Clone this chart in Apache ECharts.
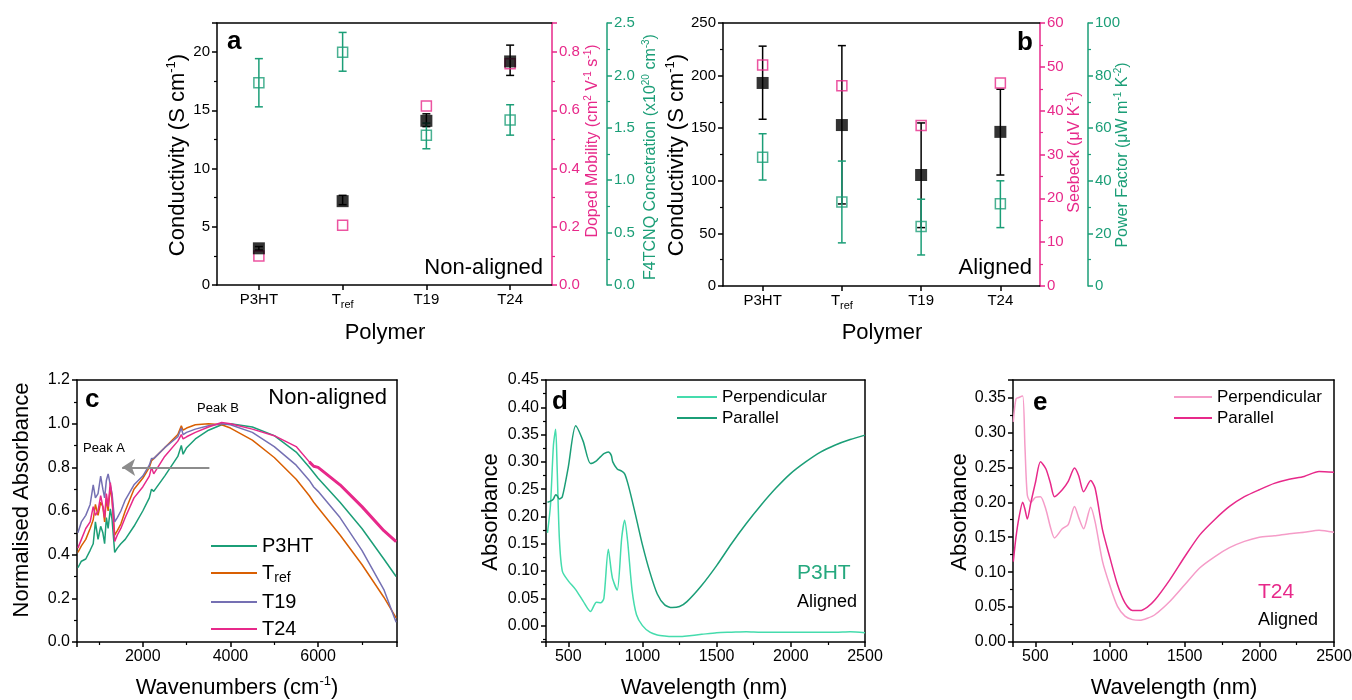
<!DOCTYPE html>
<html>
<head>
<meta charset="utf-8">
<title>Doped polymers: conductivity and absorbance</title>
<script src="https://cdn.jsdelivr.net/npm/echarts@6/dist/echarts.min.js"></script>
<style>
    html, body { margin: 0; background: #fff; }
    #container { width: 1352px; height: 700px; }
</style>
</head>
<body>
<div id="container"></div>
<script>
// ---------- data: panels a / b ----------
var polymers = ['P3HT', 'Tref', 'T19', 'T24'];

var condNonAligned = [3.15, 7.2, 14.1, 19.2];
var condNonAlignedLo = [3.0, 6.9, 13.6, 18.0];
var condNonAlignedHi = [3.3, 7.7, 14.7, 20.6];
var mobilityNonAligned = [0.10, 0.205, 0.615, 0.76];
var dopantNonAligned = [1.93, 2.22, 1.43, 1.575];
var dopantNonAlignedLo = [1.70, 2.04, 1.30, 1.43];
var dopantNonAlignedHi = [2.16, 2.41, 1.545, 1.72];

var condAligned = [193, 153, 105.5, 146.5];
var condAlignedLo = [158.5, 78, 55.5, 105.5];
var condAlignedHi = [228, 228.5, 155, 187];
var seebeckAligned = [50.4, 45.7, 36.6, 46.3];
var pfAligned = [49, 31.9, 22.6, 31.3];
var pfAlignedLo = [40.3, 16.4, 11.8, 22.2];
var pfAlignedHi = [57.9, 47.5, 33.0, 40.0];

// ---------- data: panel c (normalised absorbance vs wavenumber) ----------
var wavenumbers = [520, 600, 700, 800, 870, 920, 980, 1040, 1090, 1130, 1170, 1210, 1260, 1300, 1360, 1420,
    1500, 1600, 1800, 2000, 2150, 2200, 2250, 2500, 2800, 2880, 2920, 3000, 3200, 3500, 3800, 4000,
    4500, 5000, 5500, 5800, 5900, 6000, 6500, 7000, 7500, 7780];
var absP3HT = [0.34, 0.37, 0.38, 0.42, 0.45, 0.55, 0.47, 0.53, 0.50, 0.45, 0.57, 0.52, 0.61, 0.56, 0.41, 0.43,
    0.45, 0.47, 0.53, 0.60, 0.66, 0.70, 0.69, 0.76, 0.85, 0.90, 0.86, 0.89, 0.93, 0.97, 0.995, 1.0,
    0.985, 0.945, 0.87, 0.80, 0.775, 0.75, 0.64, 0.52, 0.38, 0.30];
var absTref = [0.41, 0.44, 0.47, 0.52, 0.56, 0.63, 0.58, 0.64, 0.62, 0.55, 0.66, 0.60, 0.71, 0.65, 0.49, 0.51,
    0.54, 0.60, 0.70, 0.75, 0.80, 0.83, 0.84, 0.89, 0.95, 0.99, 0.97, 0.98, 0.995, 1.0, 0.995, 0.98,
    0.925, 0.845, 0.745, 0.67, 0.64, 0.615, 0.49, 0.355, 0.205, 0.11];
var absT19 = [0.50, 0.55, 0.58, 0.63, 0.72, 0.66, 0.68, 0.76, 0.70, 0.66, 0.74, 0.77, 0.72, 0.68, 0.55, 0.57,
    0.60, 0.65, 0.72, 0.76, 0.81, 0.84, 0.84, 0.89, 0.94, 0.98, 0.95, 0.96, 0.975, 0.99, 1.0, 0.995,
    0.96, 0.895, 0.81, 0.74, 0.71, 0.69, 0.57, 0.42, 0.24, 0.09];
var absT24 = [0.43, 0.47, 0.52, 0.55, 0.62, 0.58, 0.60, 0.67, 0.62, 0.57, 0.68, 0.62, 0.73, 0.66, 0.46, 0.49,
    0.52, 0.57, 0.66, 0.71, 0.76, 0.80, 0.77, 0.85, 0.92, 0.95, 0.93, 0.94, 0.96, 0.985, 1.005, 1.0,
    0.975, 0.945, 0.895, 0.825, 0.805, 0.80, 0.72, 0.62, 0.51, 0.46];

// ---------- data: panel d (P3HT aligned) ----------
var wavelengthD = [360, 380, 400, 415, 425, 440, 460, 500, 550, 600, 650, 690, 720, 740, 770, 790, 800, 830,
    860, 880, 900, 930, 960, 1000, 1050, 1100, 1150, 1200, 1250, 1300, 1400, 1500, 1600, 1700, 1800,
    1900, 2000, 2100, 2200, 2300, 2400, 2500];
var perpD = [0.17, 0.22, 0.33, 0.36, 0.29, 0.16, 0.10, 0.082, 0.066, 0.045, 0.026, 0.043, 0.042, 0.05, 0.14,
    0.10, 0.085, 0.065, 0.16, 0.193, 0.155, 0.065, 0.02, 0.0, -0.012, -0.017, -0.019, -0.02, -0.02, -0.019,
    -0.016, -0.013, -0.012, -0.011, -0.012, -0.012, -0.012, -0.012, -0.012, -0.012, -0.011, -0.013];
var parD = [0.226, 0.228, 0.232, 0.240, 0.238, 0.232, 0.236, 0.290, 0.366, 0.338, 0.297, 0.302, 0.310, 0.315,
    0.318, 0.312, 0.300, 0.287, 0.283, 0.278, 0.262, 0.230, 0.195, 0.148, 0.098, 0.058, 0.038, 0.033,
    0.035, 0.044, 0.074, 0.110, 0.150, 0.187, 0.221, 0.252, 0.279, 0.300, 0.318, 0.331, 0.341, 0.349];

// ---------- data: panel e (T24 aligned) ----------
var wavelengthE = [352, 370, 390, 415, 430, 446, 470, 500, 534, 570, 600, 628, 680, 720, 762, 790, 823, 870,
    900, 950, 1000, 1050, 1100, 1150, 1200, 1250, 1300, 1400, 1500, 1600, 1700, 1800, 1900, 2000, 2100,
    2200, 2300, 2400, 2500];
var perpE = [0.315, 0.348, 0.350, 0.352, 0.280, 0.210, 0.200, 0.207, 0.208, 0.190, 0.165, 0.149, 0.162, 0.168,
    0.194, 0.178, 0.162, 0.193, 0.172, 0.115, 0.080, 0.051, 0.037, 0.032, 0.031, 0.034, 0.039, 0.058,
    0.082, 0.106, 0.122, 0.135, 0.144, 0.150, 0.152, 0.155, 0.157, 0.160, 0.157];
var parE = [0.115, 0.150, 0.178, 0.200, 0.190, 0.176, 0.200, 0.228, 0.258, 0.248, 0.228, 0.208, 0.218, 0.230,
    0.249, 0.238, 0.215, 0.231, 0.220, 0.160, 0.120, 0.082, 0.056, 0.045, 0.045, 0.050, 0.060, 0.089,
    0.122, 0.153, 0.175, 0.194, 0.208, 0.218, 0.227, 0.233, 0.237, 0.244, 0.243];

// ---------- styles ----------
var FONT = 'Liberation Sans';
var GREEN = '#1b9e77', PINK = '#e7298a', ORANGE = '#d95f02', PURPLE = '#7570b3';
var LIGHT_GREEN = '#45dcad', LIGHT_PINK = '#f59cc8', MID_GREEN = '#25a87e';

function pairs(xs, ys, from, to) {
    var out = [];
    for (var i = from || 0; i < (to || xs.length); i++) out.push([xs[i], ys[i]]);
    return out;
}

function tickFormatter(step, digits) {
    return function (v) {
        var r = v / step;
        return Math.abs(r - Math.round(r)) < 1e-6 ? v.toFixed(digits) : '';
    };
}

function valueAxis(grid, o) {
    var color = o.color || '#000';
    var show = o.labels !== false;
    var ax = {
        type: 'value', gridIndex: grid, position: o.position, offset: o.offset || 0,
        min: o.min, max: o.max,
        axisLine: { show: true, onZero: false, lineStyle: { color: color, width: 1.5 } },
        axisTick: { show: show, length: 5, lineStyle: { color: color, width: 1.5 } },
        minorTick: { show: show, splitNumber: 2, length: 3, lineStyle: { color: color, width: 1.2 } },
        splitLine: { show: false },
        axisLabel: { show: show, color: color, fontSize: o.fontSize || 15, fontFamily: FONT, margin: 7 }
    };
    if (o.interval != null) ax.interval = o.interval;
    if (o.splitNumber != null) ax.splitNumber = o.splitNumber;
    if (o.step) ax.axisLabel.formatter = tickFormatter(o.step, o.digits);
    return ax;
}

var catRich = {
    n: { fontSize: 15, lineHeight: 20, fontFamily: FONT, color: '#000' },
    s: { fontSize: 11, lineHeight: 8, verticalAlign: 'bottom', fontFamily: FONT, color: '#000' }
};
function polymerLabel(v) {
    return v === 'Tref' ? '{n|T}{s|ref}' : '{n|' + v + '}';
}

function categoryAxis(grid) {
    return {
        type: 'category', gridIndex: grid, data: polymers, position: 'bottom',
        axisLine: { show: true, onZero: false, lineStyle: { color: '#000', width: 1.5 } },
        axisTick: { show: true, alignWithLabel: true, length: 5, lineStyle: { color: '#000', width: 1.5 } },
        axisLabel: { margin: 5, formatter: polymerLabel, rich: catRich }
    };
}

function errorBars(xi, yi, lo, hi, color) {
    return {
        type: 'custom', xAxisIndex: xi, yAxisIndex: yi, z: 2, silent: true,
        data: polymers.map(function (p, i) { return [i, lo[i], hi[i]]; }),
        encode: { x: 0, y: [1, 2] },
        renderItem: function (params, api) {
            var top = api.coord([api.value(0), api.value(2)]);
            var bot = api.coord([api.value(0), api.value(1)]);
            var w = 4;
            var st = { stroke: color, lineWidth: 1.5 };
            return {
                type: 'group', children: [
                    { type: 'line', shape: { x1: top[0], y1: top[1], x2: bot[0], y2: bot[1] }, style: st },
                    { type: 'line', shape: { x1: top[0] - w, y1: top[1], x2: top[0] + w, y2: top[1] }, style: st },
                    { type: 'line', shape: { x1: bot[0] - w, y1: bot[1], x2: bot[0] + w, y2: bot[1] }, style: st }
                ]
            };
        }
    };
}

function openSquares(name, xi, yi, values, color) {
    return {
        name: name, type: 'scatter', xAxisIndex: xi, yAxisIndex: yi, z: 3, data: values,
        symbol: 'rect', symbolSize: 10,
        itemStyle: { color: 'rgba(255,255,255,0)', borderColor: color, borderWidth: 1.5 }
    };
}

function filledSquares(name, xi, yi, values) {
    return {
        name: name, type: 'scatter', xAxisIndex: xi, yAxisIndex: yi, z: 4, data: values,
        symbol: 'rect', symbolSize: 12, itemStyle: { color: '#000' }
    };
}

function curve(name, xi, yi, data, color, width, smooth) {
    return {
        name: name, type: 'line', xAxisIndex: xi, yAxisIndex: yi, data: data, symbol: 'none',
        smooth: smooth || false, lineStyle: { color: color, width: width || 1.5 }, itemStyle: { color: color }
    };
}

function txt(x, y, text, o) {
    o = o || {};
    var size = o.size || 22;
    var color = o.color || '#000';
    return {
        type: 'text', x: x, y: y, rotation: o.rotate ? Math.PI / 2 : 0, z: 100, silent: true,
        style: {
            text: text, fill: color, fontSize: size, fontFamily: FONT,
            fontWeight: o.bold ? 'bold' : 'normal', lineHeight: size + 4,
            align: o.align || 'center', verticalAlign: 'middle',
            rich: {
                sup: { fontSize: Math.round(size * 0.6), lineHeight: 10, verticalAlign: 'top', fill: color, fontFamily: FONT }
            }
        }
    };
}

var legendRich = function (size) {
    return {
        n: { fontSize: size, lineHeight: size + 4, fontFamily: FONT, color: '#000' },
        s: { fontSize: Math.round(size * 0.7), lineHeight: 8, verticalAlign: 'bottom', fontFamily: FONT, color: '#000' }
    };
};
var legendNames = { 'T24 perpendicular': 'Perpendicular', 'T24 parallel': 'Parallel' };

var chart = echarts.init(document.getElementById('container'));

var option = {
    animation: false,
    backgroundColor: '#fff',
    textStyle: { fontFamily: FONT },
    grid: [
        { left: 217, top: 23, width: 335, height: 262, outerBoundsMode: 'none' },
        { left: 723, top: 23, width: 317, height: 263, outerBoundsMode: 'none' },
        { left: 77, top: 380, width: 320, height: 262, outerBoundsMode: 'none' },
        { left: 546, top: 380, width: 319, height: 262, outerBoundsMode: 'none' },
        { left: 1013, top: 380, width: 321, height: 262, outerBoundsMode: 'none' }
    ],
    xAxis: [
        categoryAxis(0),
        valueAxis(0, { position: 'top', min: 0, max: 1, labels: false }),
        categoryAxis(1),
        valueAxis(1, { position: 'top', min: 0, max: 1, labels: false }),
        valueAxis(2, { position: 'bottom', min: 500, max: 7800, splitNumber: 4, step: 2000, digits: 0, fontSize: 16 }),
        valueAxis(2, { position: 'top', min: 500, max: 7800, labels: false }),
        valueAxis(3, { position: 'bottom', min: 350, max: 2500, splitNumber: 4, step: 500, digits: 0, fontSize: 16 }),
        valueAxis(3, { position: 'top', min: 350, max: 2500, labels: false }),
        valueAxis(4, { position: 'bottom', min: 350, max: 2500, splitNumber: 4, step: 500, digits: 0, fontSize: 16 }),
        valueAxis(4, { position: 'top', min: 350, max: 2500, labels: false })
    ],
    yAxis: [
        valueAxis(0, { position: 'left', min: 0, max: 22.5, interval: 5, step: 5, digits: 0 }),
        valueAxis(0, { position: 'right', min: 0, max: 0.9, interval: 0.2, step: 0.2, digits: 1, color: PINK }),
        valueAxis(0, { position: 'right', offset: 55, min: 0, max: 2.5, interval: 0.5, step: 0.5, digits: 1, color: GREEN }),
        valueAxis(1, { position: 'left', min: 0, max: 250, interval: 50, step: 50, digits: 0 }),
        valueAxis(1, { position: 'right', min: 0, max: 60, interval: 10, step: 10, digits: 0, color: PINK }),
        valueAxis(1, { position: 'right', offset: 48, min: 0, max: 100, interval: 20, step: 20, digits: 0, color: GREEN }),
        valueAxis(2, { position: 'left', min: 0, max: 1.2, interval: 0.2, step: 0.2, digits: 1, fontSize: 16 }),
        valueAxis(2, { position: 'right', min: 0, max: 1.2, labels: false }),
        valueAxis(3, { position: 'left', min: -0.03, max: 0.45, splitNumber: 9, step: 0.05, digits: 2, fontSize: 16 }),
        valueAxis(3, { position: 'right', min: -0.03, max: 0.45, labels: false }),
        valueAxis(4, { position: 'left', min: 0, max: 0.375, interval: 0.05, step: 0.05, digits: 2, fontSize: 16 }),
        valueAxis(4, { position: 'right', min: 0, max: 0.375, labels: false })
    ],
    legend: [
        {
            data: ['P3HT', 'Tref', 'T19', 'T24'], orient: 'vertical', left: 211, top: 536, padding: 0,
            icon: 'rect', itemWidth: 46, itemHeight: 2, itemGap: 7,
            formatter: polymerLabel, textStyle: { rich: legendRich(20) }
        },
        {
            data: ['Perpendicular', 'Parallel'], orient: 'vertical', left: 677, top: 387, padding: 0,
            icon: 'rect', itemWidth: 40, itemHeight: 2, itemGap: 1,
            textStyle: { fontSize: 17, lineHeight: 20, color: '#000' }
        },
        {
            data: ['T24 perpendicular', 'T24 parallel'], orient: 'vertical', left: 1174, top: 387, padding: 0,
            icon: 'rect', itemWidth: 38, itemHeight: 2, itemGap: 1,
            formatter: function (n) { return legendNames[n]; },
            textStyle: { fontSize: 17, lineHeight: 20, color: '#000' }
        }
    ],
    series: [
        // a
        errorBars(0, 0, condNonAlignedLo, condNonAlignedHi, '#000'),
        errorBars(0, 2, dopantNonAlignedLo, dopantNonAlignedHi, GREEN),
        openSquares('Doped mobility', 0, 1, mobilityNonAligned, PINK),
        openSquares('F4TCNQ concentration', 0, 2, dopantNonAligned, GREEN),
        filledSquares('Conductivity non-aligned', 0, 0, condNonAligned),
        // b
        errorBars(2, 3, condAlignedLo, condAlignedHi, '#000'),
        errorBars(2, 5, pfAlignedLo, pfAlignedHi, GREEN),
        openSquares('Seebeck', 2, 4, seebeckAligned, PINK),
        openSquares('Power factor', 2, 5, pfAligned, GREEN),
        filledSquares('Conductivity aligned', 2, 3, condAligned),
        // c
        (function () {
            var s = curve('P3HT', 4, 6, pairs(wavenumbers, absP3HT), GREEN);
            s.markLine = {
                silent: true, symbol: ['none', 'arrow'], symbolSize: 13,
                lineStyle: { color: '#8c8c8c', width: 2, type: 'solid' }, label: { show: false },
                data: [[{ coord: [3520, 0.8] }, { coord: [1530, 0.8] }]]
            };
            return s;
        })(),
        curve('Tref', 4, 6, pairs(wavenumbers, absTref), ORANGE),
        curve('T19', 4, 6, pairs(wavenumbers, absT19), PURPLE),
        curve('T24', 4, 6, pairs(wavenumbers, absT24), PINK),
        curve('T24', 4, 6, pairs(wavenumbers, absT24, 35), PINK, 3),
        // d
        curve('Perpendicular', 6, 8, pairs(wavelengthD, perpD), LIGHT_GREEN, 1.5, 0.25),
        curve('Parallel', 6, 8, pairs(wavelengthD, parD), GREEN, 1.5, 0.25),
        // e
        curve('T24 perpendicular', 8, 10, pairs(wavelengthE, perpE), LIGHT_PINK, 1.5, 0.25),
        curve('T24 parallel', 8, 10, pairs(wavelengthE, parE), PINK, 1.5, 0.25)
    ],
    graphic: [
        // axis titles
        txt(178, 155, 'Conductivity (S cm{sup|-1})', { rotate: true }),
        txt(593, 141, 'Doped Mobility (cm{sup|2} V{sup|-1} s{sup|-1})', { rotate: true, size: 16, color: PINK }),
        txt(651, 157, 'F4TCNQ Concetration (x10{sup|20} cm{sup|-3})', { rotate: true, size: 16, color: GREEN }),
        txt(385, 333, 'Polymer'),
        txt(677, 155, 'Conductivity (S cm{sup|-1})', { rotate: true }),
        txt(1075, 152, 'Seebeck (μV K{sup|-1})', { rotate: true, size: 16, color: PINK }),
        txt(1123, 155, 'Power Factor (μW m{sup|-1} K{sup|-2})', { rotate: true, size: 16, color: GREEN }),
        txt(882, 333, 'Polymer'),
        txt(22, 500, 'Normalised Absorbance', { rotate: true }),
        txt(237, 688, 'Wavenumbers (cm{sup|-1})'),
        txt(491, 512, 'Absorbance', { rotate: true }),
        txt(704, 688, 'Wavelength (nm)'),
        txt(960, 512, 'Absorbance', { rotate: true }),
        txt(1174, 688, 'Wavelength (nm)'),
        // panel letters
        txt(227, 42, 'a', { bold: true, size: 26, align: 'left' }),
        txt(1017, 43, 'b', { bold: true, size: 26, align: 'left' }),
        txt(85, 400, 'c', { bold: true, size: 26, align: 'left' }),
        txt(552, 402, 'd', { bold: true, size: 26, align: 'left' }),
        txt(1033, 403, 'e', { bold: true, size: 26, align: 'left' }),
        // annotations
        txt(543, 268, 'Non-aligned', { align: 'right' }),
        txt(1032, 268, 'Aligned', { align: 'right' }),
        txt(387, 398, 'Non-aligned', { align: 'right' }),
        txt(83, 448, 'Peak A', { size: 13, align: 'left' }),
        txt(197, 408, 'Peak B', { size: 13, align: 'left' }),
        txt(797, 573, 'P3HT', { size: 21, color: MID_GREEN, align: 'left' }),
        txt(797, 602, 'Aligned', { size: 18, align: 'left' }),
        txt(1258, 592, 'T24', { size: 21, color: PINK, align: 'left' }),
        txt(1258, 620, 'Aligned', { size: 18, align: 'left' })
    ]
};

chart.setOption(option);
</script>
</body>
</html>
